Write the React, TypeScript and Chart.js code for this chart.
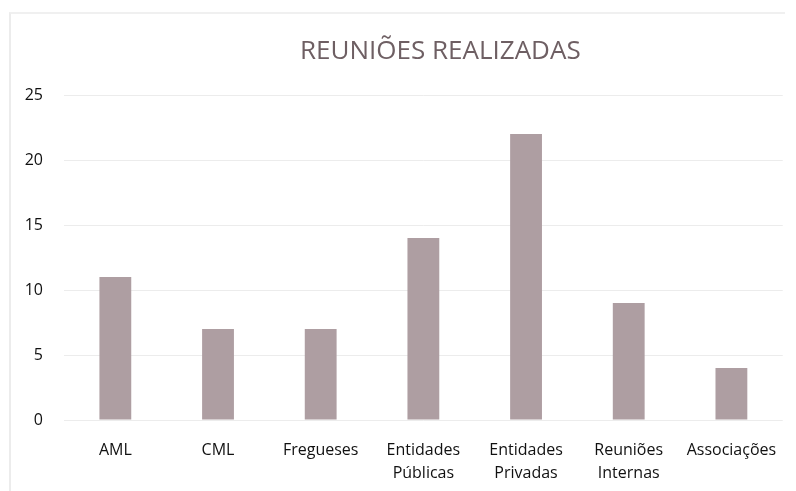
import React, { useEffect, useRef } from "react";
import { Chart, registerables } from "chart.js";

Chart.register(...registerables);

const categories: (string | string[])[] = [
  "AML",
  "CML",
  "Fregueses",
  ["Entidades", "Públicas"],
  ["Entidades", "Privadas"],
  ["Reuniões", "Internas"],
  "Associações",
];
const meetings = [11, 7, 7, 14, 22, 9, 4];
const titleText = "REUNIÕES REALIZADAS";
const yMax = 25;
const yStep = 5;

const FONT = "'Open Sans', 'DejaVu Sans', sans-serif";

const titlePlugin = {
  id: "customTitle",
  afterDraw(chart: any) {
    const { ctx, chartArea } = chart;
    ctx.save();
    ctx.font = `26px ${FONT}`;
    ctx.fillStyle = "#6e5f63";
    ctx.textAlign = "center";
    ctx.textBaseline = "middle";
    ctx.fillText(titleText, (chartArea.left + chartArea.right) / 2 + 17, 52);
    ctx.restore();
  },
};

export default function App() {
  const ref = useRef<HTMLCanvasElement | null>(null);

  useEffect(() => {
    document.body.style.margin = "0";
    if (!ref.current) return;
    const chart = new Chart(ref.current, {
      type: "bar",
      data: {
        labels: categories,
        datasets: [
          {
            data: meetings,
            backgroundColor: "#ae9ea2",
            borderWidth: 0,
            barPercentage: 0.31,
            categoryPercentage: 1,
          },
        ],
      },
      options: {
        animation: false,
        responsive: false,
        maintainAspectRatio: false,
        layout: { padding: { top: 95, right: 12, left: 0, bottom: 0 } },
        plugins: {
          legend: { display: false },
          title: { display: false },
          tooltip: { enabled: false },
        },
        scales: {
          x: {
            grid: { display: false, drawTicks: false },
            border: { display: false },
            ticks: {
              color: "#111",
              font: { family: FONT, size: 16, lineHeight: 1.45 },
              padding: 19,
              maxRotation: 0,
              autoSkip: false,
            },
            afterFit(scale: any) {
              scale.height = 71;
            },
          },
          y: {
            min: 0,
            max: yMax,
            grid: { color: "#ececec", drawTicks: false, lineWidth: 1 },
            border: { display: false },
            ticks: {
              stepSize: yStep,
              color: "#111",
              font: { family: FONT, size: 16 },
              padding: 21,
            },
            afterFit(scale: any) {
              scale.width = 64;
            },
          },
        },
      },
      plugins: [titlePlugin],
    });
    return () => chart.destroy();
  }, []);

  return (
    <div style={{ position: "relative", width: 796, height: 491, background: "#fff" }}>
      <div
        style={{
          position: "absolute",
          left: 9,
          top: 12,
          width: 776,
          height: 479,
          borderLeft: "2px solid #ececec",
          borderTop: "2px solid #f0f0f0",
          boxSizing: "border-box",
        }}
      />
      <canvas ref={ref} width={796} height={491} style={{ position: "absolute", left: 0, top: 0 }} />
    </div>
  );
}
